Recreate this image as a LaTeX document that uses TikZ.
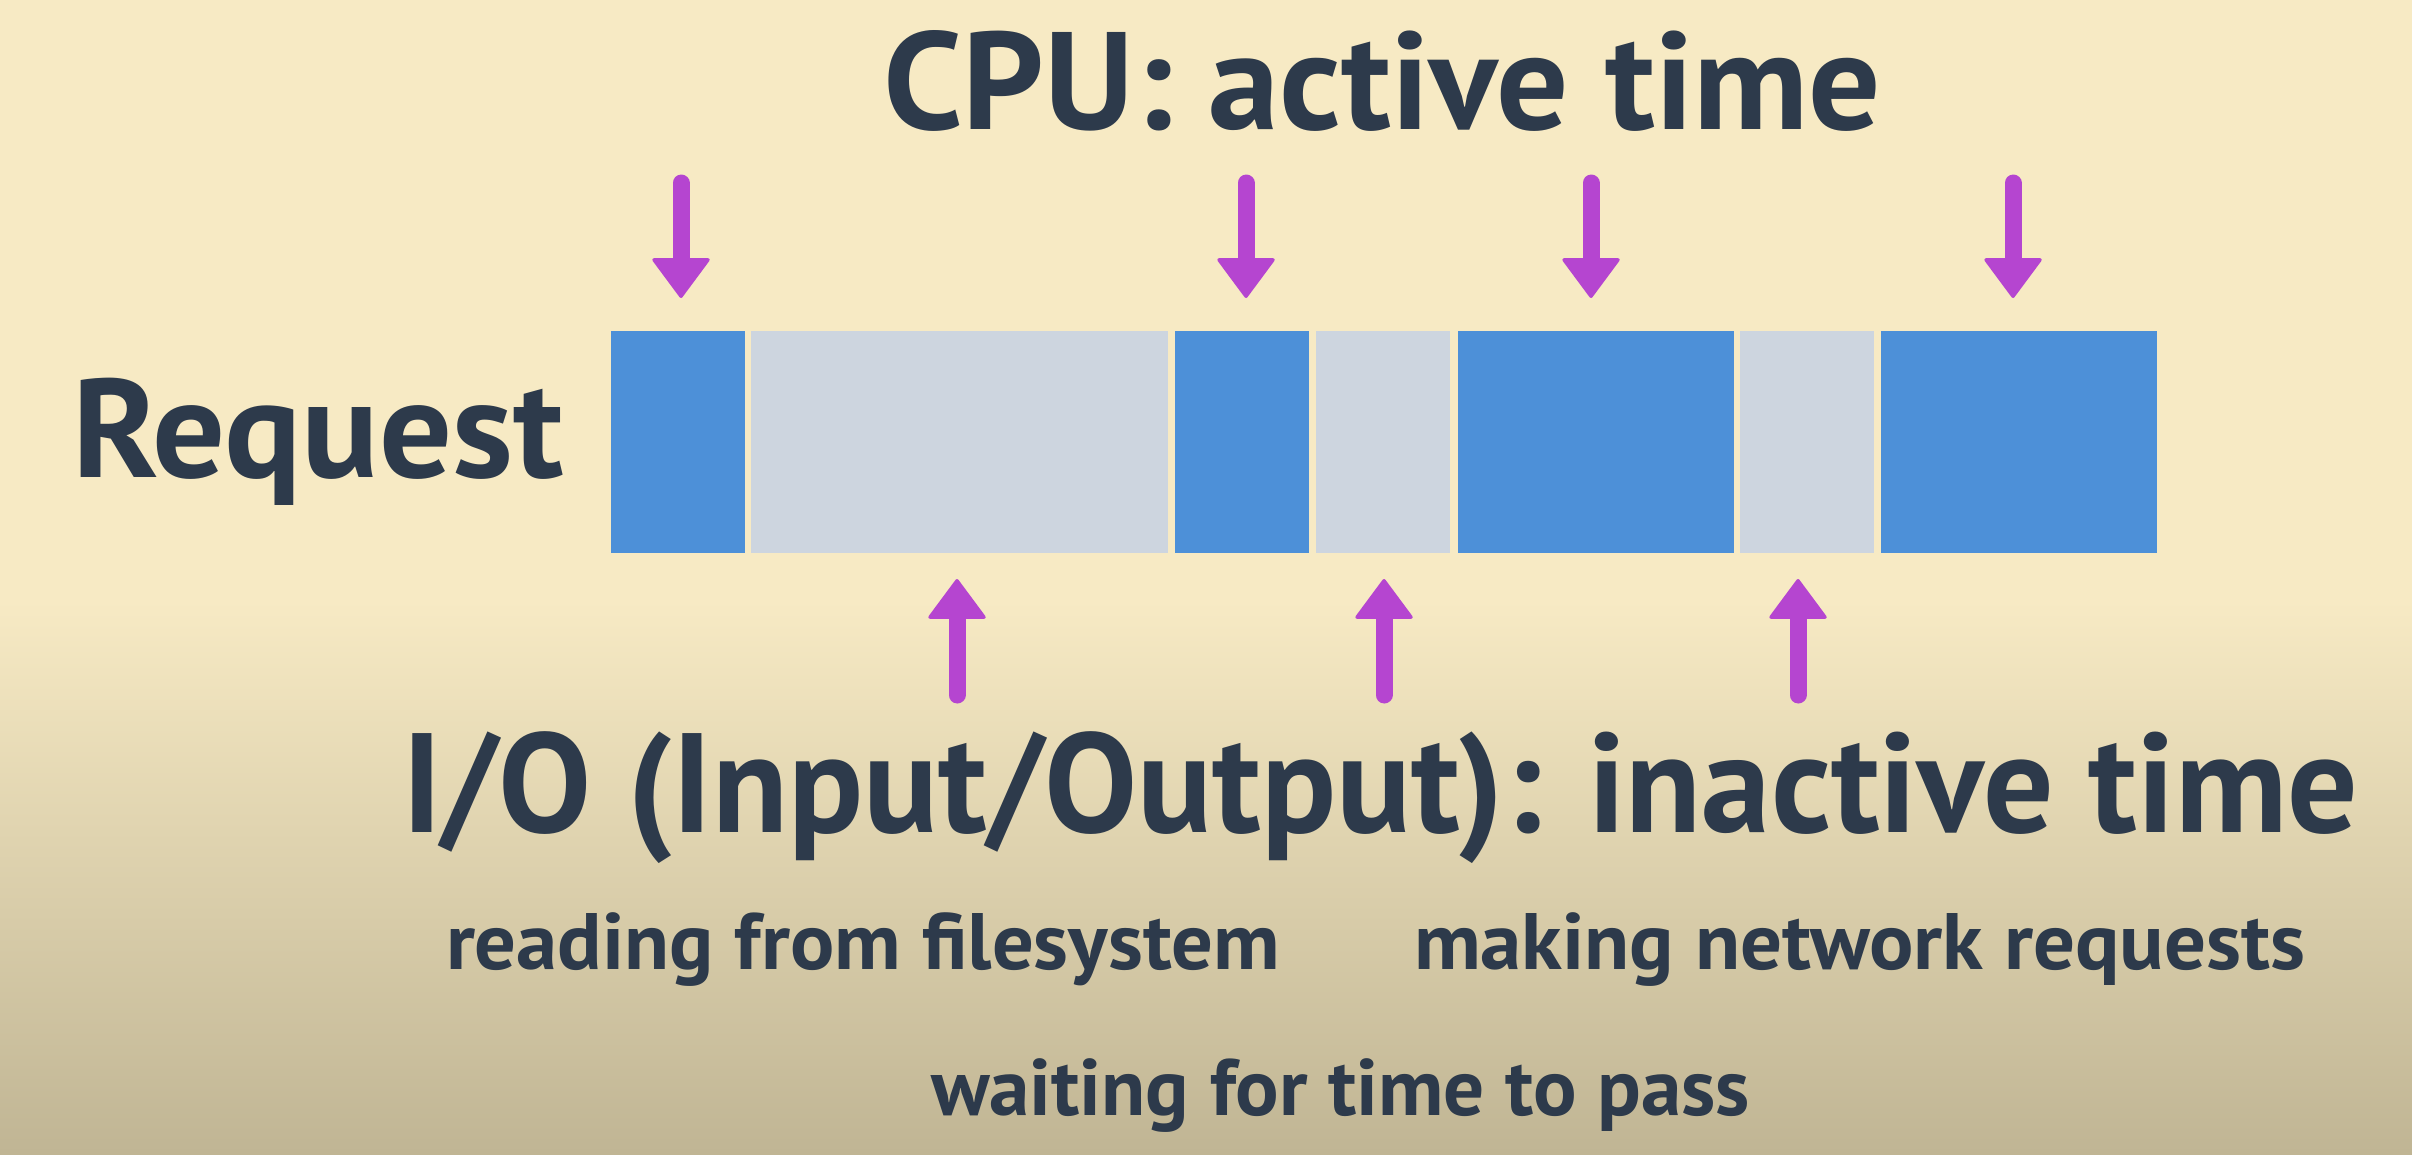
\documentclass[tikz,border=0pt]{standalone}
\usepackage{fontspec}
\setmainfont{PT Sans}
\usetikzlibrary{arrows.meta}
\definecolor{bgtop}{HTML}{F7EAC4}
\definecolor{bgbot}{HTML}{C0B594}
\definecolor{ink}{HTML}{2D3A4B}
\definecolor{cpucol}{HTML}{4D90D8}
\definecolor{iocol}{HTML}{CDD5DF}
\definecolor{arrowcol}{HTML}{B545D0}
\begin{document}
\begin{tikzpicture}[x=0.3pt,y=-0.3pt,
  seg/.style={inner sep=0pt,outer sep=0pt,draw=none,anchor=north west,minimum height=66.6pt},
  cpuseg/.style={seg,fill=cpucol},
  ioseg/.style={seg,fill=iocol},
  arr/.style={draw=arrowcol,line width=5.1pt,line cap=round,
    -{Triangle[width=18pt,length=12.3pt,line width=1pt,round,fill=arrowcol]}},
  lbl/.style={inner sep=0pt,outer sep=0pt,anchor=base west,text=ink}
]
\useasboundingbox (0,0) rectangle (2412,1154);
\fill[bgtop] (0,0) rectangle (2412,1154);
\shade[top color=bgtop,bottom color=bgbot] (0,600) rectangle (2412,1154);

% request bar
\node[cpuseg,minimum width=40.2pt] (b1) at (611,331) {};
\node[ioseg,minimum width=125.1pt] (g1) at (751,331) {};
\node[cpuseg,minimum width=40.2pt] (b2) at (1175,331) {};
\node[ioseg,minimum width=40.2pt] (g2) at (1316,331) {};
\node[cpuseg,minimum width=82.8pt] (b3) at (1458,331) {};
\node[ioseg,minimum width=40.2pt] (g3) at (1740,331) {};
\node[cpuseg,minimum width=82.8pt] (b4) at (1881,331) {};

% arrows down (CPU)
\coordinate (d1s) at (681,183);  \coordinate (d1e) at (681,298);
\coordinate (d2s) at (1246,183); \coordinate (d2e) at (1246,298);
\coordinate (d3s) at (1591,183); \coordinate (d3e) at (1591,298);
\coordinate (d4s) at (2013,183); \coordinate (d4e) at (2013,298);
\draw[arr] (d1s) -- (d1e);
\draw[arr] (d2s) -- (d2e);
\draw[arr] (d3s) -- (d3e);
\draw[arr] (d4s) -- (d4e);

% arrows up (I/O)
\coordinate (u1s) at (957,695);  \coordinate (u1e) at (957,579);
\coordinate (u2s) at (1384,695); \coordinate (u2e) at (1384,579);
\coordinate (u3s) at (1798,695); \coordinate (u3e) at (1798,579);
\draw[arr] (u1s) -- (u1e);
\draw[arr] (u2s) -- (u2e);
\draw[arr] (u3s) -- (u3e);

% labels
\node[lbl] (cpu) at (883,129) {\fontsize{41.6pt}{48pt}\selectfont\bfseries\resizebox{299.4pt}{\height}{CPU: active time}};
\node[lbl] (req) at (72,477) {\fontsize{42pt}{48pt}\selectfont\bfseries\resizebox{147.6pt}{\height}{Request}};
\node[lbl] (io) at (402,832) {\fontsize{42.4pt}{48pt}\selectfont\bfseries\resizebox{586.8pt}{\height}{I/O (Input/Output): inactive time}};
\node[lbl] (fs) at (446,969) {\fontsize{24pt}{28pt}\selectfont\bfseries\resizebox{250.2pt}{\height}{reading from filesystem}};
\node[lbl] (net) at (1414,969) {\fontsize{24pt}{28pt}\selectfont\bfseries\resizebox{267.3pt}{\height}{making network requests}};
\node[lbl] (wait) at (931,1115) {\fontsize{24pt}{28pt}\selectfont\bfseries\resizebox{245.7pt}{\height}{waiting for time to pass}};
\end{tikzpicture}
\end{document}
